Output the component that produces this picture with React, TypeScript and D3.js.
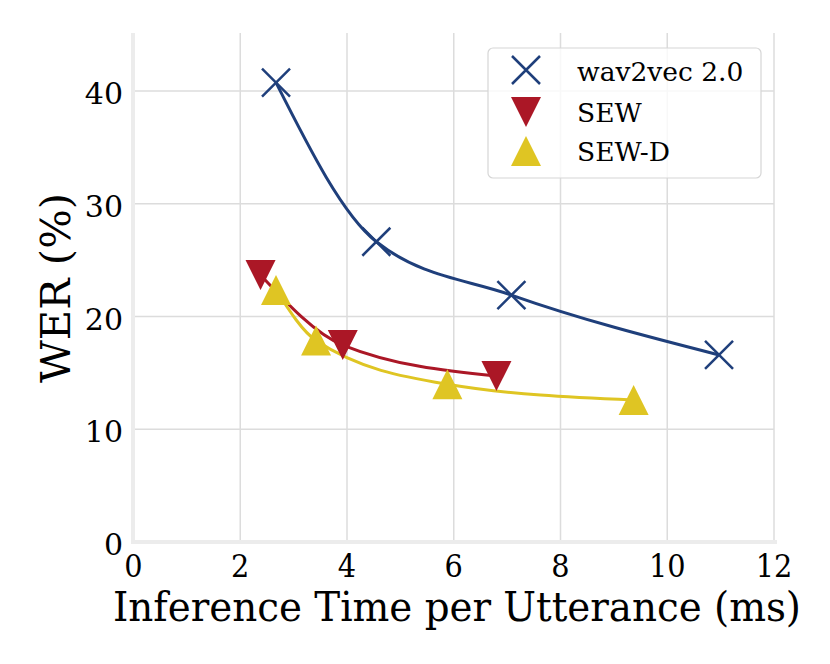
import React from "react";
import * as d3 from "d3";

const xTicks = [0, 2, 4, 6, 8, 10, 12];
const yTicks = [0, 10, 20, 30, 40];

const w2vX = [2.67, 4.55, 7.08, 10.97];
const w2vY = [40.74, 26.63, 21.9, 16.59];
const sewX = [2.38, 3.92, 6.8];
const sewY = [23.68, 17.47, 14.72];
const sewdX = [2.67, 3.42, 5.88, 9.37];
const sewdY = [22.35, 17.87, 13.99, 12.59];

const seriesNames = ["wav2vec 2.0", "SEW", "SEW-D"];
const colors = ["#1f3f7b", "#ab1726", "#dfc523"];
const markers = ["x", "v", "^"];

export default function App() {
  const W = 830, H = 664;
  const x = d3.scaleLinear().domain([0, 12]).range([133.5, 774]);
  const y = d3.scaleLinear().domain([0, 40]).range([542, 91]);
  const topY = 33;

  const allX = [w2vX, sewX, sewdX];
  const allY = [w2vY, sewY, sewdY];

  const line = d3
    .line<[number, number]>()
    .x((d) => x(d[0]))
    .y((d) => y(d[1]))
    .curve(d3.curveMonotoneX);

  const curves = allX.map((xs, i) => line(xs.map((xv, j) => [xv, allY[i][j]] as [number, number])) as string);

  const marker = (type: string, cx: number, cy: number, color: string, key: string) => {
    if (type === "x") {
      const s = 14;
      return (
        <path
          key={key}
          d={`M${cx - s},${cy - s}L${cx + s},${cy + s}M${cx - s},${cy + s}L${cx + s},${cy - s}`}
          stroke={color}
          strokeWidth={2.5}
          fill="none"
        />
      );
    }
    const h = 15;
    const d =
      type === "v"
        ? `M${cx - h},${cy - h}L${cx + h},${cy - h}L${cx},${cy + h}Z`
        : `M${cx - h},${cy + h}L${cx + h},${cy + h}L${cx},${cy - h}Z`;
    return <path key={key} d={d} fill={color} />;
  };

  const font = "'DejaVu Serif', serif";
  const condensed = "'DejaVu Serif Condensed', 'DejaVu Serif', serif";

  return (
    <svg width={W} height={H} style={{ position: "absolute", left: 0, top: 0, background: "#fff" }} fontFamily={font}>
      <rect width={W} height={H} fill="#fff" />
      {/* grid */}
      {xTicks.slice(1).map((t) => (
        <line key={"gx" + t} x1={x(t)} x2={x(t)} y1={topY} y2={542} stroke="#dcdcdc" strokeWidth={1.5} />
      ))}
      {yTicks.slice(1).map((t) => (
        <line key={"gy" + t} x1={133.5} x2={774} y1={y(t)} y2={y(t)} stroke="#dcdcdc" strokeWidth={1.5} />
      ))}
      {/* spines */}
      <line x1={133} x2={133} y1={topY} y2={544} stroke="#ececec" strokeWidth={4} />
      <line x1={131} x2={777} y1={542} y2={542} stroke="#ececec" strokeWidth={4} />
      {/* tick labels */}
      {yTicks.map((t) => (
        <text key={"yl" + t} x={123} y={y(t) + 13} textAnchor="end" fontSize={30} fill="#000">
          {t}
        </text>
      ))}
      {xTicks.map((t) => (
        <text
          key={"xl" + t}
          x={x(t)}
          y={577}
          textAnchor="middle"
          fontSize={32}
          fontFamily={condensed}
          fontStretch="condensed"
          fill="#000"
        >
          {t}
        </text>
      ))}
      {/* axis labels */}
      <text
        x={457}
        y={621}
        textAnchor="middle"
        fontSize={41}
        fontFamily={condensed}
        fontStretch="condensed"
        textLength={688}
        lengthAdjust="spacingAndGlyphs"
        fill="#000"
      >
        Inference Time per Utterance (ms)
      </text>
      <text
        transform={`translate(70,288) rotate(-90)`}
        textAnchor="middle"
        fontSize={41}
        textLength={190}
        lengthAdjust="spacingAndGlyphs"
        fill="#000"
      >
        WER (%)
      </text>
      {/* curves */}
      {curves.map((d, i) => (
        <path key={"c" + i} d={d} fill="none" stroke={colors[i]} strokeWidth={3} />
      ))}
      {/* markers */}
      {allX.map((xs, i) =>
        xs.map((xv, j) => marker(markers[i], x(xv), y(allY[i][j]), colors[i], `m${i}-${j}`))
      )}
      {/* legend */}
      <rect x={488} y={48} width={273} height={130} rx={5} fill="#fff" fillOpacity={0.8} stroke="#d6d6d6" strokeWidth={1.2} />
      {seriesNames.map((n, i) => {
        const cy = [70, 112, 151][i];
        const by = [81, 122, 161][i];
        return (
          <g key={"lg" + i}>
            {marker(markers[i], 526, cy, colors[i], "lm" + i)}
            <text x={577} y={by} fontSize={26.5} fill="#000">
              {n}
            </text>
          </g>
        );
      })}
    </svg>
  );
}
